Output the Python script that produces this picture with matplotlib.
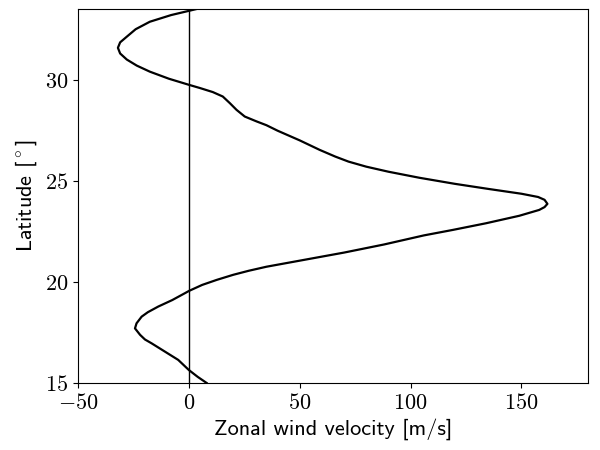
import matplotlib
matplotlib.use("Agg")
import matplotlib.pyplot as plt
from matplotlib.ticker import FuncFormatter

plt.rcParams["mathtext.fontset"] = "cm"

# latitude [deg] and zonal wind [m/s]
lat = [15.0, 15.3, 15.64, 16.14, 16.55, 16.96, 17.15, 17.38, 17.7, 17.95,
       18.28, 18.5, 18.78, 19.1, 19.44, 19.55, 19.85, 20.1, 20.35, 20.55,
       20.75, 21.05, 21.45, 21.85, 22.3, 22.57, 22.9, 23.27, 23.56, 23.7,
       23.86, 24.06, 24.2, 24.36, 24.6, 24.85, 25.15, 25.45, 25.7, 25.95,
       26.2, 26.53, 27.0, 27.48, 27.75, 27.94, 28.18, 28.51, 28.84, 29.17,
       29.39, 29.59, 29.75, 30.05, 30.4, 30.7, 31.0, 31.3, 31.58, 31.85,
       32.13, 32.5, 32.87, 33.2, 33.5]
u = [8, 4, 0, -4.8, -10.8, -16.8, -19.8, -22, -24.3, -23.6,
     -21.3, -18.5, -13.8, -7.5, -1.8, 0, 6, 12.6, 20, 27,
     35, 50, 70, 88, 106, 119, 134, 149, 158, 160.4,
     161.7, 160.4, 157.5, 150, 135, 120, 104, 90, 80, 72,
     66, 59, 50, 40, 35, 30.5, 25.2, 21.5, 18.5, 15.3,
     10.8, 5, 0, -9, -17.6, -23.5, -28, -31, -32, -31,
     -28, -24, -17.6, -8, 3.5]

xticks = [-50, 0, 50, 100, 150]
yticks = [15, 20, 25, 30]

fig = plt.figure(figsize=(6, 4.5), dpi=100)
ax = fig.add_axes([0.13, 0.149, 0.85, 0.831])
ax.axvline(0, color="black", lw=1.0)
ax.plot(u, lat, color="black", lw=1.6)
ax.set_xlim(-50, 180)
ax.set_ylim(15, 33.5)
ax.set_xticks(xticks)
ax.set_yticks(yticks)
fmt = FuncFormatter(lambda v, p: "$%g$" % v)
ax.xaxis.set_major_formatter(fmt)
ax.yaxis.set_major_formatter(fmt)
ax.tick_params(labelsize=16)
ax.set_xlabel("Zonal wind velocity [m/s]", fontsize=16,
              family=["cmss10", "DejaVu Sans"])
ax.set_ylabel(r"Latitude [$\mathsf{^\circ}$]", fontsize=16,
              family=["cmss10", "DejaVu Sans"])
fig.savefig("out.png")
plt.close(fig)
